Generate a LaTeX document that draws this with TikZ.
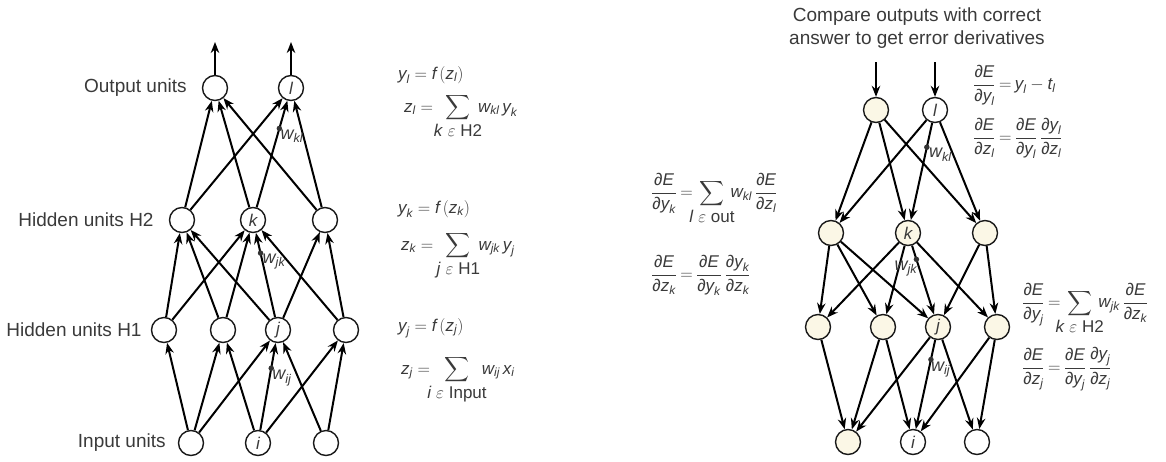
\documentclass[tikz,border=0pt]{standalone}
\usepackage{amsmath,mathtools}
\usepackage{fontspec}
\setmainfont{Liberation Sans}
\usetikzlibrary{arrows.meta,positioning}
\definecolor{inkgray}{HTML}{3A3A3A}
\definecolor{unitcream}{HTML}{FBF7E6}
\newcommand{\mv}[1]{\text{\itshape #1}}
\newcommand{\pfrac}[2]{\dfrac{\mv{∂}#1}{\mv{∂}#2}}
\newcommand{\lsum}[1]{\smash{\mathop{\displaystyle\sum}\limits_{\mathclap{\mbox{#1}}}}}

\begin{document}
\begin{tikzpicture}[
    x=1pt, y=-1pt,
    unit/.style={circle, draw=black!90, line width=1.4pt, fill=white, minimum size=25pt, inner sep=0pt, font=\fontsize{17}{17}\selectfont\itshape, text=inkgray},
    cream/.style={unit, fill=unitcream},
    arrow/.style={-{Stealth[length=11pt, width=8.5pt]}, line width=2pt},
    layername/.style={inner sep=0pt, font=\fontsize{19}{23}\selectfont, text=inkgray},
    eqn/.style={inner sep=0pt, anchor=base west, font=\fontsize{17}{20}\selectfont, text=inkgray},
    eqfrac/.style={eqn, execute at begin node={\thickmuskip=3.5mu plus 1mu}},
    wdot/.style={circle, fill=black!80, inner sep=0pt, minimum size=5.5pt},
    wlabel/.style={inner sep=0pt, font=\fontsize{18}{18}\selectfont, text=inkgray}
  ]
    \useasboundingbox (0,0) rectangle (1166,461);

    % forward pass
    \node[unit] (out1) at (215,88) {};
    \node[unit] (outl) at (291,88) {l};
    \node[unit] (h2a) at (182,220) {};
    \node[unit] (h2k) at (253,220) {k};
    \node[unit] (h2c) at (325,220) {};
    \node[unit] (h1a) at (164,330) {};
    \node[unit] (h1b) at (223,330) {};
    \node[unit] (h1j) at (278,330) {j};
    \node[unit] (h1d) at (346,330) {};
    \node[unit] (ina) at (191,443) {};
    \node[unit] (ini) at (258,443) {i};
    \node[unit] (inc) at (326,443) {};

    \node[layername, left=15pt of out1] (lout) {Output units};
    \node[layername, left=15pt of h2a] (lh2) {Hidden units H2};
    \node[layername, left=9pt of h1a] (lh1) {Hidden units H1};
    \node[layername, left=12pt of ina] (lin) {Input units};

    \coordinate (top1) at (215,42);
    \coordinate (topl) at (291,42);
    \draw[arrow] (out1) -- (top1);
    \draw[arrow] (outl) -- (topl);

    \draw[arrow] (h2a) -- (out1);
    \draw[arrow] (h2a) -- (outl);
    \draw[arrow] (h2k) -- (out1);
    \draw[arrow] (h2k) -- (outl) node[wdot, pos=0.74] (dkl) {};
    \draw[arrow] (h2c) -- (out1);
    \draw[arrow] (h2c) -- (outl);

    \draw[arrow] (h1a) -- (h2a);
    \draw[arrow] (h1a) -- (h2k);
    \draw[arrow] (h1b) -- (h2a);
    \draw[arrow] (h1b) -- (h2k);
    \draw[arrow] (h1j) -- (h2a);
    \draw[arrow] (h1j) -- (h2k) node[wdot, pos=0.76] (djk) {};
    \draw[arrow] (h1j) -- (h2c);
    \draw[arrow] (h1d) -- (h2k);
    \draw[arrow] (h1d) -- (h2c);

    \draw[arrow] (ina) -- (h1a);
    \draw[arrow] (ina) -- (h1b);
    \draw[arrow] (ina) -- (h1j);
    \draw[arrow] (ini) -- (h1b);
    \draw[arrow] (ini) -- (h1j) node[wdot, pos=0.71] (dij) {};
    \draw[arrow] (ini) -- (h1d);
    \draw[arrow] (inc) -- (h1j);
    \draw[arrow] (inc) -- (h1d);

    \node[wlabel, anchor=north west] (wkl) at ([shift={(1,1)}]dkl.center) {$\mv{w}_{\mv{kl}}$};
    \node[wlabel, anchor=north west] (wjk) at ([shift={(2,1)}]djk.center) {$\mv{w}_{\mv{jk}}$};
    \node[wlabel, anchor=north west] (wij) at ([shift={(1,2)}]dij.center) {$\mv{w}_{\mv{ij}}$};

    \node[eqn] (eqyl) at (398,79) {$\mv{y}_{\mv{l}} = \mv{f}\,(\mv{z}_{\mv{l}})$};
    \node[eqn] (eqzl) at (404,112) {$\mv{z}_{\mv{l}} = \;\,\lsum{\textit{k} $\varepsilon$ H2}\;\, \mv{w}_{\mv{kl}}\,\mv{y}_{\mv{k}}$};
    \node[eqn] (eqyk) at (398,213) {$\mv{y}_{\mv{k}} = \mv{f}\,(\mv{z}_{\mv{k}})$};
    \node[eqn] (eqzk) at (401,250) {$\mv{z}_{\mv{k}} = \;\,\lsum{\textit{j} $\varepsilon$ H1}\;\, \mv{w}_{\mv{jk}}\,\mv{y}_{\mv{j}}$};
    \node[eqn] (eqyj) at (398,331) {$\mv{y}_{\mv{j}} = \mv{f}\,(\mv{z}_{\mv{j}})$};
    \node[eqn] (eqzj) at (401,374) {$\mv{z}_{\mv{j}} = \;\;\lsum{\textit{i} $\varepsilon$ Input}\;\;\, \mv{w}_{\mv{ij}}\,\mv{x}_{\mv{i}}$};

    % backward pass
    \node[layername, align=center] (compare) at (917,28) {Compare outputs with correct\\answer to get error derivatives};

    \node[cream] (rout1) at (876,110) {};
    \node[unit] (routl) at (935,110) {l};
    \node[cream] (rh2a) at (831,233) {};
    \node[cream] (rh2k) at (908,233) {k};
    \node[cream] (rh2c) at (985,233) {};
    \node[cream] (rh1a) at (818,327) {};
    \node[cream] (rh1b) at (883,327) {};
    \node[cream] (rh1j) at (938,327) {j};
    \node[cream] (rh1d) at (997,327) {};
    \node[cream] (rina) at (848,442) {};
    \node[unit] (rini) at (913,442) {i};
    \node[unit] (rinc) at (977,442) {};

    \coordinate (err1) at (876,62);
    \coordinate (errl) at (935,62);
    \draw[arrow] (err1) -- (rout1);
    \draw[arrow] (errl) -- (routl);

    \draw[arrow] (rout1) -- (rh2a);
    \draw[arrow] (rout1) -- (rh2k);
    \draw[arrow] (rout1) -- (rh2c);
    \draw[arrow] (routl) -- (rh2a);
    \draw[arrow] (routl) -- (rh2k) node[wdot, pos=0.25] (rdkl) {};
    \draw[arrow] (routl) -- (rh2c);

    \draw[arrow] (rh2a) -- (rh1a);
    \draw[arrow] (rh2a) -- (rh1b);
    \draw[arrow] (rh2a) -- (rh1j);
    \draw[arrow] (rh2k) -- (rh1a);
    \draw[arrow] (rh2k) -- (rh1b);
    \draw[arrow] (rh2k) -- (rh1j) node[wdot, pos=0.2] (rdjk) {};
    \draw[arrow] (rh2k) -- (rh1d);
    \draw[arrow] (rh2c) -- (rh1j);
    \draw[arrow] (rh2c) -- (rh1d);

    \draw[arrow] (rh1a) -- (rina);
    \draw[arrow] (rh1b) -- (rina);
    \draw[arrow] (rh1b) -- (rini);
    \draw[arrow] (rh1j) -- (rina);
    \draw[arrow] (rh1j) -- (rini) node[wdot, pos=0.22] (rdij) {};
    \draw[arrow] (rh1j) -- (rinc);
    \draw[arrow] (rh1d) -- (rini);
    \draw[arrow] (rh1d) -- (rinc);

    \node[wlabel, anchor=north west] (rwkl) at ([shift={(2,1)}]rdkl.center) {$\mv{w}_{\mv{kl}}$};
    \node[wlabel, anchor=north east] (rwjk) at ([shift={(1,1)}]rdjk.center) {$\mv{w}_{\mv{jk}}$};
    \node[wlabel, anchor=north west] (rwij) at ([shift={(0,2)}]rdij.center) {$\mv{w}_{\mv{ij}}$};

    \node[eqfrac] (eqdyl) at (973,89.5) {$\pfrac{\mv{E}}{\mv{y}_{\mv{l}}} = \mv{y}_{\mv{l}} - \mv{t}_{\mv{l}}$};
    \node[eqfrac] (eqdzl) at (973,142.5) {$\pfrac{\mv{E}}{\mv{z}_{\mv{l}}} = \pfrac{\mv{E}}{\mv{y}_{\mv{l}}}\,\pfrac{\mv{y}_{\mv{l}}}{\mv{z}_{\mv{l}}}$};
    \node[eqfrac] (eqdyk) at (651,197.5) {$\pfrac{\mv{E}}{\mv{y}_{\mv{k}}} = \;\lsum{\textit{l} $\varepsilon$ out}\;\, \mv{w}_{\mv{kl}}\,\pfrac{\mv{E}}{\mv{z}_{\mv{l}}}$};
    \node[eqfrac] (eqdzk) at (651,279.5) {$\pfrac{\mv{E}}{\mv{z}_{\mv{k}}} = \pfrac{\mv{E}}{\mv{y}_{\mv{k}}}\,\pfrac{\mv{y}_{\mv{k}}}{\mv{z}_{\mv{k}}}$};
    \node[eqfrac] (eqdyj) at (1022,307.5) {$\pfrac{\mv{E}}{\mv{y}_{\mv{j}}} = \;\lsum{\textit{k} $\varepsilon$ H2}\;\, \mv{w}_{\mv{jk}}\,\pfrac{\mv{E}}{\mv{z}_{\mv{k}}}$};
    \node[eqfrac] (eqdzj) at (1022,372.5) {$\pfrac{\mv{E}}{\mv{z}_{\mv{j}}} = \pfrac{\mv{E}}{\mv{y}_{\mv{j}}}\,\pfrac{\mv{y}_{\mv{j}}}{\mv{z}_{\mv{j}}}$};
  \end{tikzpicture}
\end{document}
